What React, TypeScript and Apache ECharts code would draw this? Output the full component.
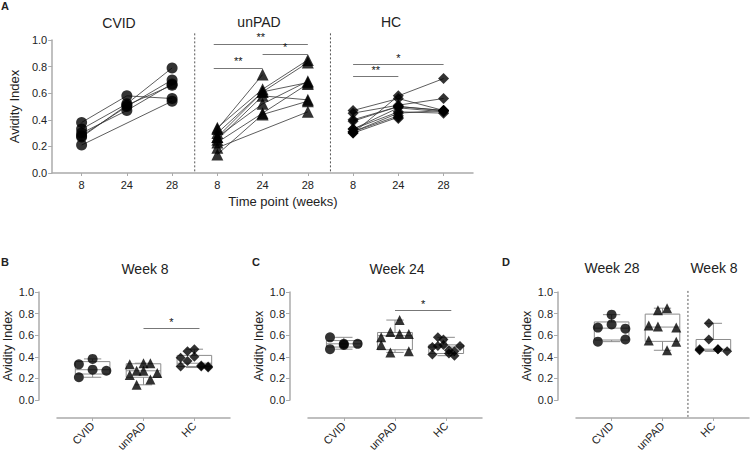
import React, { useEffect, useRef } from "react";
import * as echarts from "echarts";

const FONT = "'Liberation Sans', Arial, Helvetica, sans-serif";

// ---------- Panel A: avidity index per subject at weeks 8 / 24 / 28 ----------
const weekLabels = ["8", "24", "28"];
const groupNames = ["CVID", "unPAD", "HC"];
const groupSymbols = ["circle", "triangle", "diamond"];

// each row = one subject: [week 8, week 24, week 28] (null = missing)
const cvidSubjects: (number | null)[][] = [
  [0.38, 0.58, 0.56],
  [0.33, 0.52, 0.79],
  [0.28, 0.5, 0.7],
  [0.3, 0.47, 0.67],
  [0.27, 0.51, 0.66],
  [0.21, null, 0.54],
];
const unpadSubjects: (number | null)[][] = [
  [0.33, 0.74, null],
  [0.34, 0.63, 0.85],
  [0.3, 0.61, 0.83],
  [0.27, 0.61, 0.68],
  [0.25, 0.58, 0.55],
  [0.27, 0.52, 0.69],
  [0.23, 0.45, 0.67],
  [0.14, 0.44, 0.54],
  [0.19, null, 0.46],
];
const hcSubjects: (number | null)[][] = [
  [0.3, 0.58, 0.71],
  [0.47, 0.56, 0.47],
  [0.45, 0.51, 0.56],
  [0.4, 0.5, 0.47],
  [0.39, 0.5, 0.47],
  [0.33, 0.49, 0.46],
  [0.33, 0.46, 0.45],
  [0.31, 0.45, 0.47],
  [0.31, 0.43, null],
  [0.3, 0.42, null],
  [null, 0.41, null],
];

// ---------- Panels B, C, D: values per group ----------
const week8CVID = [0.33, 0.21, 0.28, 0.38, 0.27];
const week8unPAD = [0.33, 0.23, 0.27, 0.14, 0.34, 0.27, 0.19, 0.34, 0.25];
const week8HC = [0.39, 0.31, 0.45, 0.36, 0.47, 0.4, 0.31, 0.32, 0.3, 0.31];

const week24CVID = [0.58, 0.47, 0.52, 0.51, 0.52];
const week24unPAD = [0.58, 0.51, 0.63, 0.44, 0.74, 0.61, 0.45, 0.61];
const week24HC = [0.42, 0.49, 0.5, 0.58, 0.56, 0.51, 0.43, 0.46, 0.41, 0.45, 0.5];

const week28CVID = [0.67, 0.54, 0.79, 0.7, 0.56, 0.66];
const week28unPAD = [0.69, 0.55, 0.83, 0.68, 0.46, 0.85, 0.54, 0.67];
const week8HCpanelD = [0.46, 0.47, 0.71, 0.56, 0.47, 0.47, 0.45];

const panelTitlesA = ["CVID", "unPAD", "HC"];
const panelTitlesBottom = ["Week 8", "Week 24", "Week 28", "Week 8"];

const AXIS_GRAY = "#ababab";
const TEXT = "#222";

function quantile(sorted: number[], p: number) {
  const n = sorted.length;
  const pos = (n + 1) * p;
  if (pos <= 1) return sorted[0];
  if (pos >= n) return sorted[n - 1];
  const lo = Math.floor(pos);
  const f = pos - lo;
  return sorted[lo - 1] + f * (sorted[lo] - sorted[lo - 1]);
}
function boxStats(vals: number[]) {
  const s = [...vals].sort((a, b) => a - b);
  return [s[0], quantile(s, 0.25), quantile(s, 0.5), quantile(s, 0.75), s[s.length - 1]];
}
// horizontal spreading of dots inside a category (layout only)
function spread(vals: number[], cat: number) {
  const n = vals.length;
  const k = Math.max(3, Math.ceil(n / 2));
  const half = 0.27;
  return vals.map((v, i) => {
    const col = Math.floor((i * k) / n);
    const off = -half + (col * 2 * half) / (k - 1);
    return [cat + off, v];
  });
}

export default function App() {
  const ref = useRef<HTMLDivElement>(null);
  useEffect(() => {
    document.body.style.margin = "0";
    if (!ref.current) return;
    const chart = echarts.init(ref.current, null, { renderer: "svg" });

    const yAxisBase = (gridIndex: number, nameGap: number, nameSize: number, offset: number) => ({
      type: "value",
      gridIndex,
      min: 0,
      max: 1,
      interval: 0.2,
      offset,
      name: "Avidity Index",
      nameLocation: "middle",
      nameGap,
      nameTextStyle: { fontFamily: FONT, fontSize: nameSize, color: TEXT },
      axisLine: { show: true, onZero: false, lineStyle: { color: AXIS_GRAY, width: 1.5 } },
      axisTick: { show: true, length: 4, lineStyle: { color: AXIS_GRAY, width: 1 } },
      axisLabel: {
        fontFamily: FONT,
        fontSize: 11,
        color: TEXT,
        margin: 5,
        formatter: (v: number) => v.toFixed(1),
      },
      splitLine: { show: false },
    });

    const catAxis = (gridIndex: number) => ({
      type: "value",
      gridIndex,
      min: -0.7,
      max: 2.7,
      offset: 18,
      axisLine: { show: true, onZero: false, lineStyle: { color: AXIS_GRAY, width: 1.5 } },
      axisTick: { show: true, length: 3, customValues: [0, 1, 2], lineStyle: { color: AXIS_GRAY } },
      axisLabel: {
        customValues: [0, 1, 2],
        rotate: 45,
        fontFamily: FONT,
        fontSize: 11,
        color: TEXT,
        margin: 6,
        formatter: (v: number) => groupNames[Math.round(v)],
      },
      splitLine: { show: false },
    });

    const allSubjects = [cvidSubjects, unpadSubjects, hcSubjects];
    const series: any[] = [];

    // Panel A lines
    allSubjects.forEach((subs, g) => {
      subs.forEach((row) => {
        const data = row
          .map((v, w) => (v == null ? null : [g * 3 + w, v]))
          .filter((d) => d != null);
        series.push({
          type: "line",
          xAxisIndex: 0,
          yAxisIndex: 0,
          data,
          showSymbol: false,
          symbol: "none",
          lineStyle: { color: "#333", width: 0.8 },
          z: 2,
          silent: true,
        });
      });
    });
    // Panel A markers
    allSubjects.forEach((subs, g) => {
      const pts: number[][] = [];
      subs.forEach((row) =>
        row.forEach((v, w) => {
          if (v != null) pts.push([g * 3 + w, v]);
        })
      );
      series.push({
        type: "scatter",
        xAxisIndex: 0,
        yAxisIndex: 0,
        data: pts,
        symbol: groupSymbols[g],
        symbolSize: g === 1 ? 12 : 11,
        itemStyle: { color: "#000" },
        z: 4,
        silent: true,
      });
    });

    const sigLabel = (txt: string) => ({
      show: true,
      formatter: txt,
      position: "middle",
      distance: 1,
      fontFamily: FONT,
      fontSize: 11,
      color: "#111",
    });
    const sigLine = { color: "#777", width: 1.2, type: "solid" };

    // dotted group separators (custom series so they may reach past the grid)
    const separator = (xIdx: number, xs: number[], yTop: number, yBottom: number, extraPx: number) => ({
      type: "custom",
      xAxisIndex: xIdx,
      yAxisIndex: xIdx,
      silent: true,
      z: 1,
      data: xs.map((x) => [x]),
      encode: { x: 0 },
      renderItem: (params: any, api: any) => {
        const x = api.value(0);
        const a = api.coord([x, yTop]);
        const b = api.coord([x, yBottom]);
        return {
          type: "line",
          shape: { x1: a[0], y1: a[1], x2: b[0], y2: b[1] + extraPx },
          style: { stroke: "#555", lineWidth: 1, lineDash: [2, 2] },
        };
      },
    });
    series.push(separator(0, [2.5, 5.5], 1.05, 0, 0));

    // Panel A significance bars
    series.push({
      type: "scatter",
      xAxisIndex: 0,
      yAxisIndex: 0,
      data: [],
      markLine: {
        silent: true,
        symbol: ["none", "none"],
        animation: false,
        data: [
          [
            { coord: [2.92, 0.97], lineStyle: sigLine, label: sigLabel("**") },
            { coord: [5, 0.97] },
          ],
          [
            { coord: [4, 0.895], lineStyle: sigLine, label: sigLabel("*") },
            { coord: [5, 0.895] },
          ],
          [
            { coord: [2.92, 0.79], lineStyle: sigLine, label: sigLabel("**") },
            { coord: [4, 0.79] },
          ],
          [
            { coord: [6, 0.815], lineStyle: sigLine, label: sigLabel("*") },
            { coord: [8, 0.815] },
          ],
          [
            { coord: [6, 0.725], lineStyle: sigLine, label: sigLabel("**") },
            { coord: [7, 0.725] },
          ],
        ],
      },
    });

    // Bottom panels
    const panels = [
      { groups: [week8CVID, week8unPAD, week8HC], sig: { from: 1, to: 2, y: 0.66 } },
      { groups: [week24CVID, week24unPAD, week24HC], sig: { from: 1, to: 2, y: 0.83 } },
      { groups: [week28CVID, week28unPAD, week8HCpanelD], sig: null as any },
    ];
    panels.forEach((p, pi) => {
      const axisIdx = pi + 1;
      series.push({
        type: "custom",
        xAxisIndex: axisIdx,
        yAxisIndex: axisIdx,
        silent: true,
        z: 2,
        data: p.groups.map((vals, g) => [g, ...boxStats(vals)]),
        encode: { x: 0, y: [1, 2, 3, 4, 5] },
        renderItem: (params: any, api: any) => {
          const x = api.value(0);
          const mn = api.value(1),
            q1 = api.value(2),
            md = api.value(3),
            q3 = api.value(4),
            mx = api.value(5);
          const hw = 0.34,
            cw = 0.17;
          const tl = api.coord([x - hw, q3]);
          const br = api.coord([x + hw, q1]);
          const mL = api.coord([x - hw, md]);
          const mR = api.coord([x + hw, md]);
          const top = api.coord([x, mx]);
          const bot = api.coord([x, mn]);
          const capL = api.coord([x - cw, mx])[0];
          const capR = api.coord([x + cw, mx])[0];
          const st = { stroke: "#8c8c8c", lineWidth: 1, fill: "none" };
          return {
            type: "group",
            children: [
              { type: "rect", shape: { x: tl[0], y: tl[1], width: br[0] - tl[0], height: br[1] - tl[1] }, style: st },
              { type: "line", shape: { x1: mL[0], y1: mL[1], x2: mR[0], y2: mR[1] }, style: st },
              { type: "line", shape: { x1: top[0], y1: top[1], x2: top[0], y2: tl[1] }, style: st },
              { type: "line", shape: { x1: bot[0], y1: bot[1], x2: bot[0], y2: br[1] }, style: st },
              { type: "line", shape: { x1: capL, y1: top[1], x2: capR, y2: top[1] }, style: st },
              { type: "line", shape: { x1: capL, y1: bot[1], x2: capR, y2: bot[1] }, style: st },
            ],
          };
        },
      });
      p.groups.forEach((vals, g) => {
        series.push({
          type: "scatter",
          xAxisIndex: axisIdx,
          yAxisIndex: axisIdx,
          data: spread(vals, g),
          symbol: groupSymbols[g],
          symbolSize: g === 0 ? 10 : 10,
          itemStyle: { color: "#000" },
          z: 4,
          silent: true,
        });
      });
      if (p.sig) {
        series.push({
          type: "scatter",
          xAxisIndex: axisIdx,
          yAxisIndex: axisIdx,
          data: [],
          markLine: {
            silent: true,
            symbol: ["none", "none"],
            animation: false,
            data: [
              [
                { coord: [p.sig.from, p.sig.y], lineStyle: sigLine, label: sigLabel("*") },
                { coord: [p.sig.to + 0.1, p.sig.y] },
              ],
            ],
          },
        });
      }
    });
    series.push(separator(3, [1.5], 1.01, 0, 18));

    const txt = (text: string, x: number, y: number, size: number, bold = false, align = "center") => ({
      type: "text",
      x,
      y,
      style: {
        text,
        fontFamily: FONT,
        fontSize: size,
        fontWeight: bold ? "bold" : "normal",
        fill: TEXT,
        textAlign: align,
        textVerticalAlign: "middle",
      },
    });

    chart.setOption({
      animation: false,
      backgroundColor: "#fff",
      grid: [
        { left: 43, top: 40, width: 430, height: 133 },
        { left: 57, top: 292, width: 173, height: 110 },
        { left: 308, top: 292, width: 174, height: 110 },
        { left: 576, top: 292, width: 173, height: 110 },
      ],
      xAxis: [
        {
          type: "value",
          gridIndex: 0,
          min: -0.65,
          max: 8.65,
          axisLine: { show: true, onZero: false, lineStyle: { color: AXIS_GRAY, width: 1.5 } },
          axisTick: {
            show: true,
            length: 3,
            customValues: [0, 1, 2, 3, 4, 5, 6, 7, 8],
            lineStyle: { color: AXIS_GRAY },
          },
          axisLabel: {
            customValues: [0, 1, 2, 3, 4, 5, 6, 7, 8],
            fontFamily: FONT,
            fontSize: 11,
            color: TEXT,
            margin: 6,
            formatter: (v: number) => weekLabels[Math.round(v) % 3],
          },
          splitLine: { show: false },
        },
        catAxis(1),
        catAxis(2),
        catAxis(3),
      ],
      yAxis: [
        yAxisBase(0, 30, 13, 0),
        yAxisBase(1, 24, 12.5, 18),
        yAxisBase(2, 24, 12.5, 18),
        yAxisBase(3, 24, 12.5, 18),
      ],
      graphic: [
        txt("A", 1, 6, 11, true, "left"),
        txt("B", 1, 262, 11, true, "left"),
        txt("C", 252, 262, 11, true, "left"),
        txt("D", 502, 262, 11, true, "left"),
        txt(panelTitlesA[0], 119, 23, 14),
        txt(panelTitlesA[1], 259, 22, 14),
        txt(panelTitlesA[2], 391, 22, 14),
        txt("Time point (weeks)", 283, 201, 13),
        txt(panelTitlesBottom[0], 145, 269, 14),
        txt(panelTitlesBottom[1], 397, 269, 14),
        txt(panelTitlesBottom[2], 612, 268, 14),
        txt(panelTitlesBottom[3], 714, 268, 14),
      ],
      series,
    });
    return () => chart.dispose();
  }, []);
  return <div ref={ref} style={{ width: 750, height: 454 }} />;
}
